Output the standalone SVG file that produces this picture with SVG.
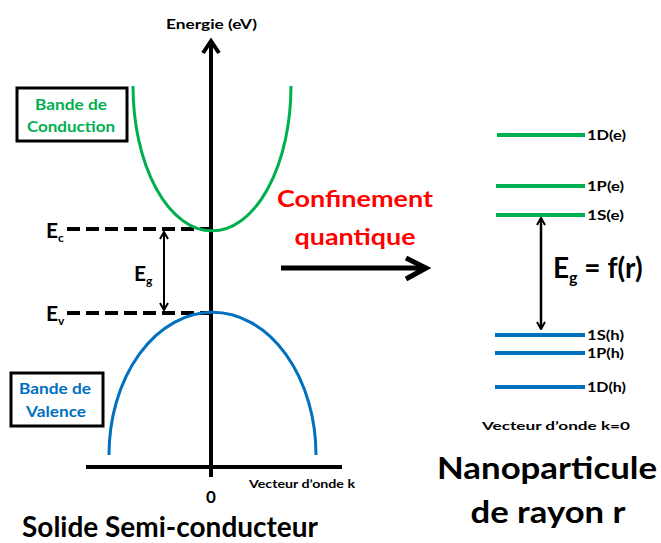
<svg xmlns="http://www.w3.org/2000/svg" width="661" height="543" viewBox="0 0 661 543">
<defs>
<style>
text{font-family:Lato,"Open Sans","Liberation Sans",sans-serif;font-weight:bold;fill:#000}
.g{fill:#00b050}.b{fill:#0070c0}.r{fill:#ff0000}
.lvg{stroke:#00b050;stroke-width:4}
.lvb{stroke:#0070c0;stroke-width:4}
.lab{font-size:13px}
.dash{stroke:#000;stroke-width:4;stroke-dasharray:13,6}
</style>
<marker id="ah" viewBox="0 0 10 10" refX="9" refY="5" markerWidth="10" markerHeight="10" orient="auto-start-reverse" markerUnits="userSpaceOnUse">
<path d="M2,1 L9,5 L2,9" fill="none" stroke="#000" stroke-width="2"/>
</marker>
</defs>
<g id="connectors">
<line x1="211" y1="477" x2="211" y2="44" stroke="#000" stroke-width="4"/>
<path d="M203,53 L211,41 L219,53" fill="none" stroke="#000" stroke-width="4"/>
<line x1="86" y1="467" x2="342" y2="467" stroke="#000" stroke-width="4"/>
<line class="dash" x1="67" y1="229" x2="211" y2="229"/>
<line class="dash" x1="67" y1="313" x2="211" y2="313"/>
<line x1="164" y1="232" x2="164" y2="310" stroke="#000" stroke-width="2" marker-start="url(#ah)" marker-end="url(#ah)"/>
<line x1="281" y1="268" x2="424" y2="268" stroke="#000" stroke-width="5"/>
<path d="M406,258 L426,268 L406,279" fill="none" stroke="#000" stroke-width="5"/>
<line x1="541" y1="218" x2="541" y2="329" stroke="#000" stroke-width="2.5" marker-start="url(#ah)" marker-end="url(#ah)"/>
</g>
<g id="conduction-band">
<path d="M133,86 A78,143 0 0 0 291,86" fill="none" stroke="#00b050" stroke-width="3"/>
</g>
<g id="valence-band">
<path d="M109,455 A103,142 0 0 1 316,455" fill="none" stroke="#0070c0" stroke-width="3"/>
</g>
<g id="label-conduction">
<rect x="17" y="88" width="110" height="53" fill="#fff" stroke="#000" stroke-width="3"/>
<text class="g" x="71" y="110" font-size="15" text-anchor="middle" textLength="72" lengthAdjust="spacingAndGlyphs">Bande de</text>
<text class="g" x="71" y="132" font-size="15" text-anchor="middle" textLength="88" lengthAdjust="spacingAndGlyphs">Conduction</text>
</g>
<g id="label-valence">
<rect x="11" y="373" width="92" height="53" fill="#fff" stroke="#000" stroke-width="3"/>
<text class="b" x="55" y="394" font-size="15" text-anchor="middle" textLength="72" lengthAdjust="spacingAndGlyphs">Bande de</text>
<text class="b" x="56" y="417" font-size="15" text-anchor="middle" textLength="60" lengthAdjust="spacingAndGlyphs">Valence</text>
</g>
<g id="axis-labels">
<text x="166" y="29" font-size="13" textLength="91" lengthAdjust="spacingAndGlyphs">Energie (eV)</text>
<text x="211" y="503" font-size="17" text-anchor="middle">0</text>
<text x="249" y="488" font-size="11" textLength="106" lengthAdjust="spacingAndGlyphs">Vecteur d’onde k</text>
<text x="22" y="537" font-size="29" textLength="296" lengthAdjust="spacingAndGlyphs">Solide Semi-conducteur</text>
</g>
<g id="energy-labels">
<text x="46" y="238" font-size="21">E<tspan font-size="12" dy="4">c</tspan></text>
<text x="46" y="321" font-size="21">E<tspan font-size="12" dy="4">v</tspan></text>
<text x="134" y="281" font-size="21">E<tspan font-size="12" dy="4">g</tspan></text>
</g>
<g id="confinement">
<text class="r" x="355" y="207" font-size="23" text-anchor="middle" textLength="156" lengthAdjust="spacingAndGlyphs">Confinement</text>
<text class="r" x="355" y="245" font-size="23" text-anchor="middle" textLength="121" lengthAdjust="spacingAndGlyphs">quantique</text>
</g>
<g id="levels">
<line class="lvg" x1="497" y1="135" x2="585" y2="135"/>
<line class="lvg" x1="496" y1="186" x2="585" y2="186"/>
<line class="lvg" x1="496" y1="215" x2="585" y2="215"/>
<line class="lvb" x1="495" y1="335" x2="585" y2="335"/>
<line class="lvb" x1="495" y1="353" x2="585" y2="353"/>
<line class="lvb" x1="495" y1="387" x2="585" y2="387"/>
<text class="lab" x="587" y="140" textLength="39" lengthAdjust="spacingAndGlyphs">1D(e)</text>
<text class="lab" x="587" y="191" textLength="37" lengthAdjust="spacingAndGlyphs">1P(e)</text>
<text class="lab" x="587" y="220" textLength="37" lengthAdjust="spacingAndGlyphs">1S(e)</text>
<text class="lab" x="587" y="340" textLength="37" lengthAdjust="spacingAndGlyphs">1S(h)</text>
<text class="lab" x="587" y="358" textLength="37" lengthAdjust="spacingAndGlyphs">1P(h)</text>
<text class="lab" x="587" y="392" textLength="39" lengthAdjust="spacingAndGlyphs">1D(h)</text>
</g>
<g id="eg-fr">
<text x="553" y="278" font-size="28">E<tspan font-size="16" dy="5">g</tspan><tspan dy="-5"> = f(r)</tspan></text>
</g>
<g id="nano-labels">
<text x="556" y="430" font-size="12" text-anchor="middle" textLength="148" lengthAdjust="spacingAndGlyphs">Vecteur d’onde k=0</text>
<text x="547" y="479" font-size="31" text-anchor="middle" textLength="220" lengthAdjust="spacingAndGlyphs">Nanoparticule</text>
<text x="548" y="523" font-size="31" text-anchor="middle" textLength="155" lengthAdjust="spacingAndGlyphs">de rayon r</text>
</g>
</svg>
